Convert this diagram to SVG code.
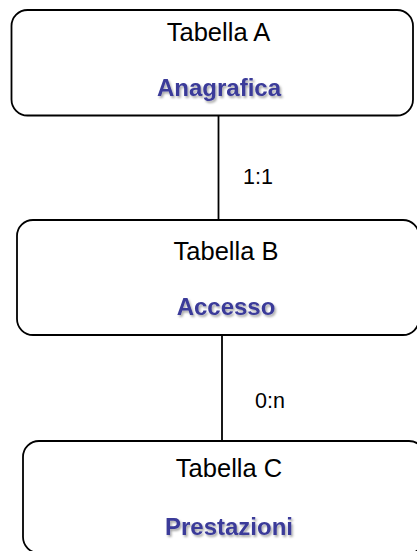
<svg xmlns="http://www.w3.org/2000/svg" width="417" height="551" viewBox="0 0 417 551">
<style>
.box{fill:#fff;stroke:#000;stroke-width:1.8}
.t{font-family:"Liberation Sans",Arial,sans-serif;font-size:25.5px;fill:#000;text-anchor:middle}
.n{font-family:"Liberation Sans",Arial,sans-serif;font-size:24px;font-weight:bold;fill:#3a3a99;text-anchor:middle;filter:url(#sh)}
.lbl{font-family:"Liberation Sans",Arial,sans-serif;font-size:21.5px;fill:#000;text-anchor:middle}
.c{stroke:#000;stroke-width:1.8;fill:none}
</style>
<defs>
<filter id="sh" x="-10%" y="-20%" width="130%" height="160%">
<feDropShadow dx="1.5" dy="2" stdDeviation="1.2" flood-color="#000" flood-opacity="0.35"/>
</filter>
</defs>
<g id="connectors">
<line class="c" x1="218.5" y1="116" x2="218.5" y2="220"/>
<text class="lbl" x="258" y="184">1:1</text>
<line class="c" x1="222" y1="335" x2="222" y2="441"/>
<text class="lbl" x="270" y="408">0:n</text>
</g>
<g id="tabellaA">
<rect class="box" x="11.5" y="10" width="401.5" height="105.5" rx="16" ry="16"/>
<text class="t" x="218.5" y="41">Tabella A</text>
<text class="n" x="219" y="96">Anagrafica</text>
</g>
<g id="tabellaB">
<rect class="box" x="17" y="220" width="402" height="115" rx="16" ry="16"/>
<text class="t" x="226" y="260">Tabella B</text>
<text class="n" x="226" y="315">Accesso</text>
</g>
<g id="tabellaC">
<rect class="box" x="23" y="441" width="402" height="112" rx="16" ry="16"/>
<text class="t" x="229" y="477">Tabella C</text>
<text class="n" x="229" y="535">Prestazioni</text>
</g>
</svg>
